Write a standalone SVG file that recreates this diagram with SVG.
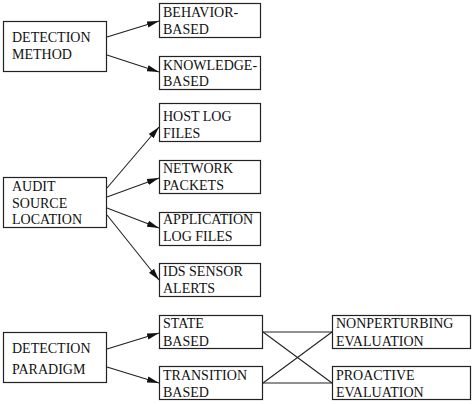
<svg xmlns="http://www.w3.org/2000/svg" width="474" height="404" viewBox="0 0 474 404">
<style>
.box{fill:#fff;stroke:#222;stroke-width:1.2}
text{font-family:"Liberation Serif","Times New Roman",serif;font-size:14px;fill:#111}
.c{stroke:#222;stroke-width:1.1;fill:none}
.a{marker-end:url(#ah)}
</style>
<defs>
<marker id="ah" viewBox="0 0 12 8" refX="12" refY="4" markerWidth="12" markerHeight="8" markerUnits="userSpaceOnUse" orient="auto">
<path d="M0,0.8 L12,4 L0,7.2 z" fill="#111"/>
</marker>
</defs>
<rect width="474" height="404" fill="#fff"/>
<g id="connectors">
<line class="c a" x1="107" y1="37" x2="159" y2="21"/>
<line class="c a" x1="107" y1="55" x2="159" y2="72"/>
<line class="c a" x1="107" y1="188" x2="159" y2="127"/>
<line class="c a" x1="107" y1="197" x2="159" y2="178"/>
<line class="c a" x1="107" y1="208" x2="159" y2="228"/>
<line class="c a" x1="107" y1="215" x2="159" y2="280"/>
<line class="c a" x1="107" y1="349" x2="159" y2="333"/>
<line class="c a" x1="107" y1="367" x2="159" y2="383"/>
<line class="c" x1="263" y1="332" x2="332" y2="332"/>
<line class="c" x1="263" y1="332" x2="332" y2="383"/>
<line class="c" x1="263" y1="383" x2="332" y2="383"/>
<line class="c" x1="263" y1="383" x2="332" y2="332"/>
</g>
<g id="detection-method">
<rect class="box" x="3.5" y="21.5" width="103" height="50"/>
<text x="12" y="42">DETECTION</text>
<text x="12" y="59">METHOD</text>
</g>
<g id="behavior-based">
<rect class="box" x="159.5" y="3.5" width="101" height="34"/>
<text x="163" y="17">BEHAVIOR-</text>
<text x="163" y="34">BASED</text>
</g>
<g id="knowledge-based">
<rect class="box" x="159.5" y="56.5" width="101" height="33"/>
<text x="163" y="70">KNOWLEDGE-</text>
<text x="163" y="86">BASED</text>
</g>
<g id="audit-source-location">
<rect class="box" x="3.5" y="177.5" width="103" height="50"/>
<text x="12" y="191">AUDIT</text>
<text x="12" y="207.5">SOURCE</text>
<text x="12" y="224">LOCATION</text>
</g>
<g id="host-log-files">
<rect class="box" x="159.5" y="103.5" width="101" height="38"/>
<text x="163" y="121">HOST LOG</text>
<text x="163" y="138">FILES</text>
</g>
<g id="network-packets">
<rect class="box" x="159.5" y="160.5" width="101" height="33"/>
<text x="163" y="173">NETWORK</text>
<text x="163" y="190">PACKETS</text>
</g>
<g id="application-log-files">
<rect class="box" x="159.5" y="212.5" width="101" height="33"/>
<text x="163" y="224">APPLICATION</text>
<text x="163" y="241">LOG FILES</text>
</g>
<g id="ids-sensor-alerts">
<rect class="box" x="159.5" y="263.5" width="101" height="33"/>
<text x="163" y="276">IDS SENSOR</text>
<text x="163" y="293">ALERTS</text>
</g>
<g id="detection-paradigm">
<rect class="box" x="3.5" y="332.5" width="103" height="50"/>
<text x="12" y="353">DETECTION</text>
<text x="12" y="374">PARADIGM</text>
</g>
<g id="state-based">
<rect class="box" x="159.5" y="315.5" width="103" height="33"/>
<text x="163" y="328">STATE</text>
<text x="163" y="346">BASED</text>
</g>
<g id="transition-based">
<rect class="box" x="159.5" y="366.5" width="103" height="33"/>
<text x="163" y="380">TRANSITION</text>
<text x="163" y="397">BASED</text>
</g>
<g id="nonperturbing-evaluation">
<rect class="box" x="332.5" y="315.5" width="138" height="33"/>
<text x="336" y="328">NONPERTURBING</text>
<text x="336" y="346">EVALUATION</text>
</g>
<g id="proactive-evaluation">
<rect class="box" x="332.5" y="366.5" width="138" height="33"/>
<text x="336" y="380">PROACTIVE</text>
<text x="336" y="397">EVALUATION</text>
</g>
</svg>
